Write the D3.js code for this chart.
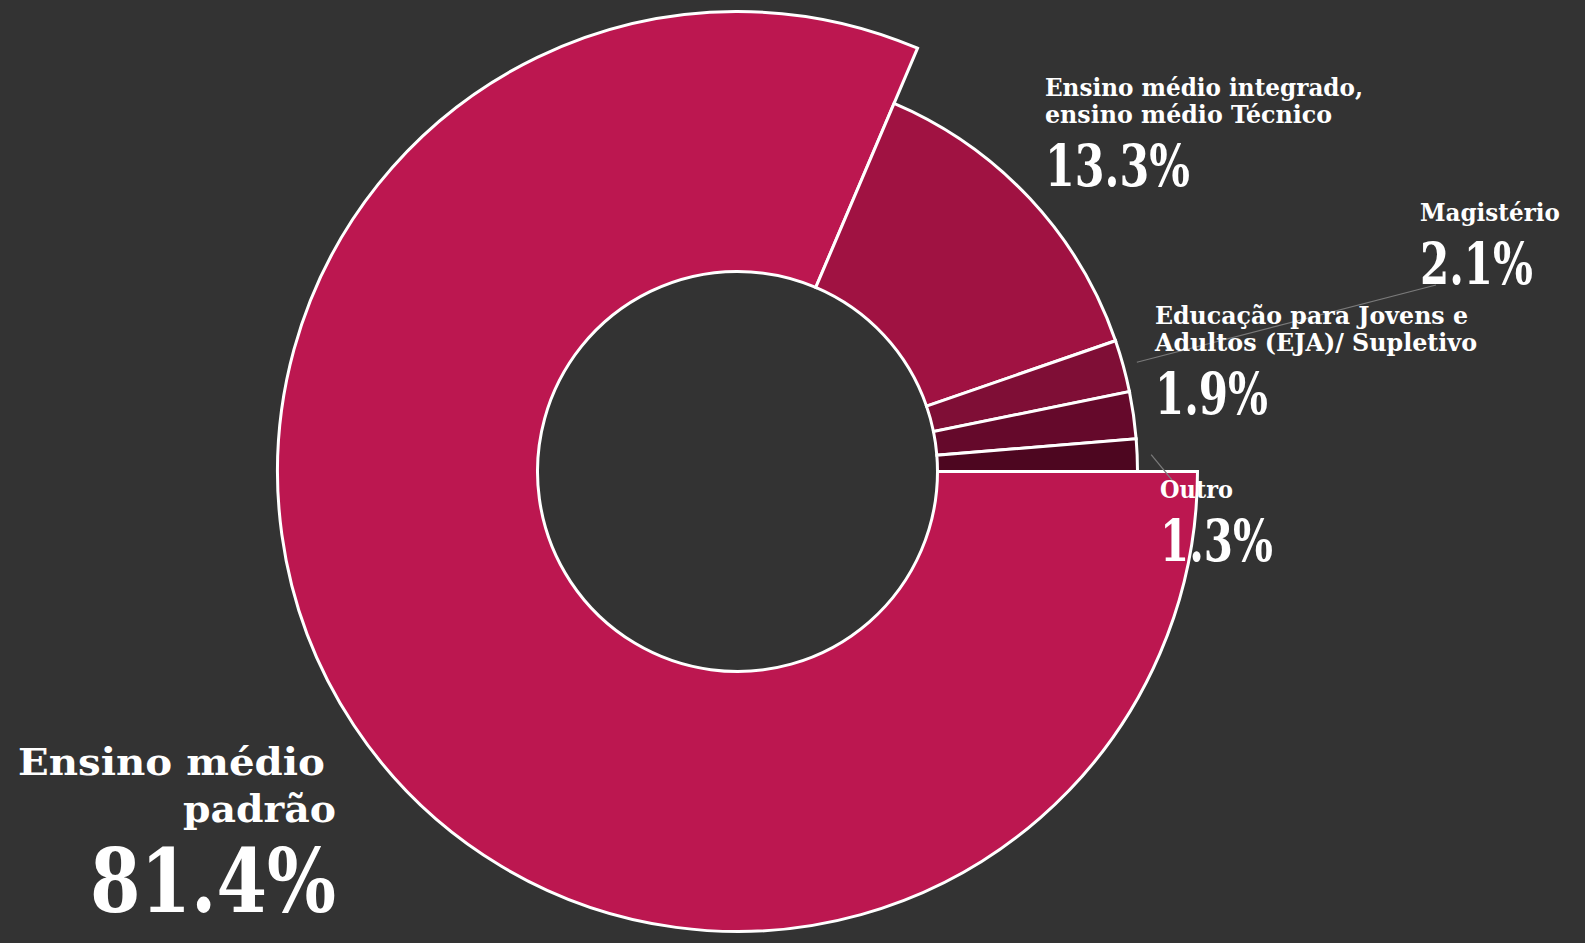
<!DOCTYPE html>
<html>
<head>
<meta charset="utf-8">
<script src="https://cdn.jsdelivr.net/npm/d3@7"></script>
<style>
  html, body { margin: 0; padding: 0; background: #333333; }
  svg { display: block; }
  text { font-family: "Roboto Slab", "DejaVu Serif", serif; font-weight: bold; fill: #ffffff; }
</style>
</head>
<body>
<svg id="chart" width="1585" height="943"></svg>
<script>
// ---- data ----
const categories = [
  "Ensino médio padrão",
  "Ensino médio integrado, ensino médio Técnico",
  "Magistério",
  "Educação para Jovens e Adultos (EJA)/ Supletivo",
  "Outro"
];
const values = [81.4, 13.3, 2.1, 1.9, 1.3];
const labelLines = [
  ["Ensino médio", "padrão"],
  ["Ensino médio integrado,", "ensino médio Técnico"],
  ["Magistério"],
  ["Educação para Jovens e", "Adultos (EJA)/ Supletivo"],
  ["Outro"]
];

// ---- styles / layout ----
const colors = ["#bc1750", "#a01242", "#7f0e36", "#65092b", "#4d0620"];
const cx = 737.5, cy = 471.5;
const innerR = 200, outerR = 400, bigOuterR = 460;

// label layout: anchor x, text anchor, line baselines, sizes and target widths
const labelLayout = [
  { x: 336, anchor: "end", lines: [{y: 775, size: 38, w: 307, dx: -11}, {y: 822, size: 38, w: 153}], val: {y: 912, size: 88, w: 246} },
  { x: 1045, anchor: "start", lines: [{y: 96, size: 25, w: 318}, {y: 123, size: 25, w: 287}], val: {y: 186, size: 58, w: 145} },
  { x: 1420, anchor: "start", lines: [{y: 221, size: 25, w: 140}], val: {y: 284, size: 58, w: 113} },
  { x: 1155, anchor: "start", lines: [{y: 324, size: 25, w: 313}, {y: 351, size: 25, w: 322}], val: {y: 414, size: 58, w: 113} },
  { x: 1160, anchor: "start", lines: [{y: 498, size: 25, w: 73}], val: {y: 561, size: 58, w: 113} }
];
// leader line end points (label side)
const leaderEnds = [null, null, [1436, 285], null, [1172, 480]];

const svg = d3.select("#chart");
svg.append("rect").attr("width", 1585).attr("height", 943).attr("fill", "#333333");

const data = categories.map((c, i) => ({ name: c, value: values[i], index: i }));

const pie = d3.pie()
  .sort(null)
  .value(d => d.value)
  .startAngle(Math.PI / 2)
  .endAngle(Math.PI / 2 + 2 * Math.PI);

const arcs = pie(data);

const arc = d3.arc()
  .innerRadius(innerR)
  .outerRadius(d => d.data.index === 0 ? bigOuterR : outerR);

const g = svg.append("g").attr("transform", `translate(${cx},${cy})`);

// leader lines (under slices/labels)
const lineG = svg.append("g");
arcs.forEach((a, i) => {
  const end = leaderEnds[i];
  if (!end) return;
  const mid = (a.startAngle + a.endAngle) / 2;
  const r0 = outerR + 14;
  const x0 = cx + r0 * Math.sin(mid);
  const y0 = cy - r0 * Math.cos(mid);
  lineG.append("line")
    .attr("x1", x0).attr("y1", y0)
    .attr("x2", end[0]).attr("y2", end[1])
    .attr("stroke", "#7a7a7a")
    .attr("stroke-width", 1.2);
});

g.selectAll("path.slice")
  .data(arcs)
  .join("path")
  .attr("class", "slice")
  .attr("d", arc)
  .attr("fill", (d, i) => colors[i])
  .attr("stroke", "#ffffff")
  .attr("stroke-width", 3)
  .attr("stroke-linejoin", "miter");

// labels
const labelG = svg.append("g");
function fitText(sel, w) {
  const len = sel.node().getComputedTextLength();
  if (Math.abs(len - w) > 1) {
    sel.attr("textLength", w).attr("lengthAdjust", "spacingAndGlyphs");
  }
}
arcs.forEach((a, i) => {
  const L = labelLayout[i];
  labelLines[i].forEach((line, j) => {
    const spec = L.lines[j];
    const t = labelG.append("text")
      .attr("x", L.x + (spec.dx || 0))
      .attr("y", spec.y)
      .attr("text-anchor", L.anchor)
      .attr("font-size", spec.size)
      .text(line);
    fitText(t, spec.w);
  });
  const v = labelG.append("text")
    .attr("x", L.x)
    .attr("y", L.val.y)
    .attr("text-anchor", L.anchor)
    .attr("font-size", L.val.size)
    .text(d3.format(".1f")(a.data.value) + "%");
  fitText(v, L.val.w);
});
</script>
</body>
</html>
